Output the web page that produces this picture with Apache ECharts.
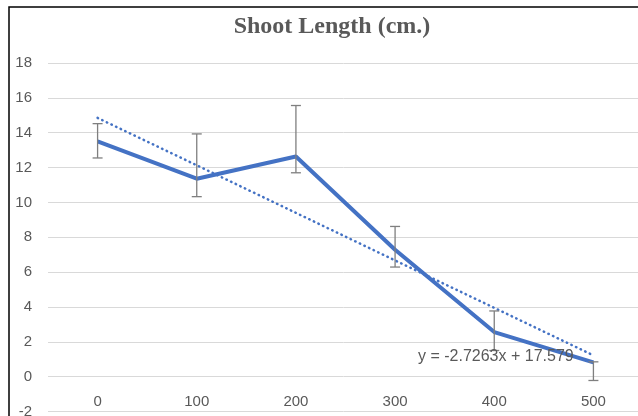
<!DOCTYPE html>
<html>
<head>
<meta charset="utf-8">
<script src="https://cdn.jsdelivr.net/npm/echarts@6/dist/echarts.min.js"></script>
<style>
  html, body { margin: 0; padding: 0; background: #fff; }
  #main { width: 638px; height: 416px; }
</style>
</head>
<body>
<div id="main"></div>
<script>
// values
var categories = ['0', '100', '200', '300', '400', '500'];
var shootLength = [13.5, 11.36, 12.63, 7.28, 2.56, 0.82];
var errUpper = [14.52, 13.93, 15.56, 8.62, 3.77, 0.85];
var errLower = [12.55, 10.33, 11.70, 6.29, 1.5, -0.22];
// linear trendline as drawn (y = -2.7263x + 17.579)
var trendValues = [14.85, 12.13, 9.40, 6.67, 3.95, 1.22];
var yTicks = { min: -2, max: 18, step: 2 };

var errData = [];
for (var i = 0; i < categories.length; i++) {
  errData.push([i, errUpper[i], errLower[i]]);
}

var gridHeight = 348.5;
// x axis sits on the zero line, which is one tick step above the bottom
var zeroOffset = -gridHeight * (0 - yTicks.min) / (yTicks.max - yTicks.min);

var chartDom = document.getElementById('main');
var myChart = echarts.init(chartDom);
var option;

option = {
  animation: false,
  graphic: [
    {
      type: 'rect',
      shape: { x: 9, y: 7, width: 700, height: 500 },
      style: { fill: 'none', stroke: '#000', lineWidth: 1.5 },
      silent: true
    },
    {
      type: 'text',
      x: 332,
      y: 27,
      style: {
        text: 'Shoot Length (cm.)',
        fill: '#595959',
        font: 'bold 24px "Liberation Serif", "Times New Roman", serif',
        textAlign: 'center',
        textVerticalAlign: 'middle'
      }
    },
    {
      type: 'text',
      x: 418,
      y: 357,
      z: 100,
      style: {
        text: 'y = -2.7263x + 17.579',
        fill: '#595959',
        font: '16px "Liberation Sans", Arial, sans-serif',
        textAlign: 'left',
        textVerticalAlign: 'middle'
      }
    }
  ],
  grid: {
    left: 48,
    top: 63,
    width: 595,
    height: gridHeight,
    containLabel: false,
    outerBoundsMode: 'none'
  },
  xAxis: {
    type: 'category',
    data: categories,
    boundaryGap: true,
    offset: zeroOffset,
    axisLine: { show: false, onZero: false },
    axisTick: { show: false },
    axisLabel: {
      color: '#595959',
      fontSize: 15,
      fontFamily: 'Liberation Sans',
      margin: 18
    }
  },
  yAxis: {
    type: 'value',
    min: yTicks.min,
    max: yTicks.max,
    interval: yTicks.step,
    axisLine: { show: false },
    axisTick: { show: false },
    axisLabel: {
      color: '#595959',
      fontSize: 15,
      fontFamily: 'Liberation Sans',
      margin: 16
    },
    splitLine: { lineStyle: { color: '#d9d9d9', width: 1 } }
  },
  series: [
    {
      name: 'Shoot Length',
      type: 'line',
      data: shootLength,
      symbol: 'none',
      lineStyle: { color: '#4472c4', width: 4 },
      z: 2
    },
    {
      name: 'Linear',
      type: 'line',
      data: trendValues,
      symbol: 'none',
      lineStyle: { color: '#4472c4', width: 2.5, type: [0.5, 4.6], cap: 'round' },
      z: 3
    },
    {
      name: 'Error',
      type: 'custom',
      data: errData,
      encode: { x: 0, y: [1, 2] },
      z: 4,
      renderItem: function (params, api) {
        var top = api.coord([api.value(0), api.value(1)]);
        var bot = api.coord([api.value(0), api.value(2)]);
        var w = 5;
        var st = { stroke: '#7f7f7f', lineWidth: 1.3 };
        return {
          type: 'group',
          children: [
            { type: 'line', shape: { x1: top[0], y1: top[1], x2: bot[0], y2: bot[1] }, style: st },
            { type: 'line', shape: { x1: top[0] - w, y1: top[1], x2: top[0] + w, y2: top[1] }, style: st },
            { type: 'line', shape: { x1: bot[0] - w, y1: bot[1], x2: bot[0] + w, y2: bot[1] }, style: st }
          ]
        };
      }
    }
  ]
};

option && myChart.setOption(option);
</script>
</body>
</html>
